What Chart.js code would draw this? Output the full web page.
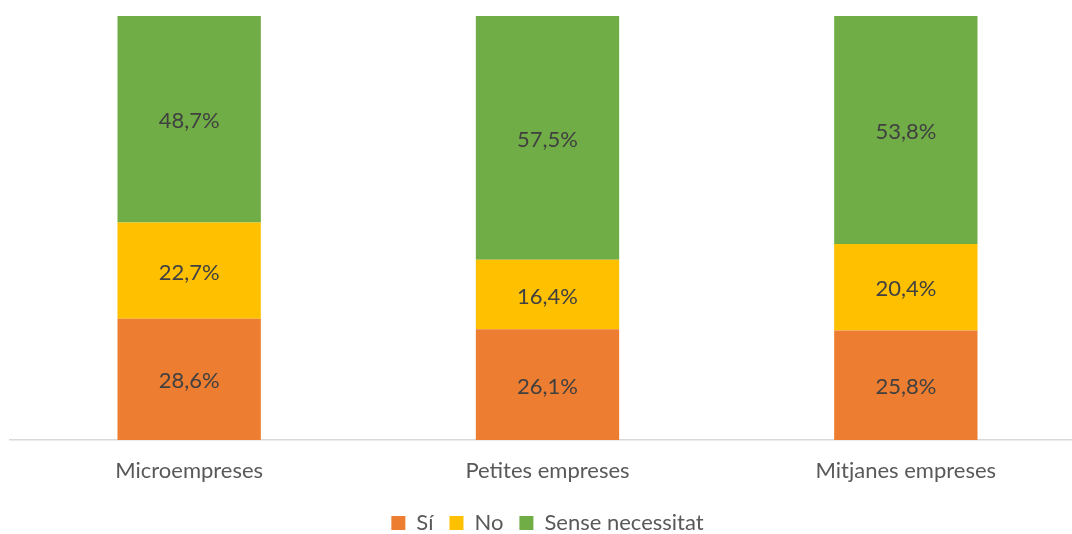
<!DOCTYPE html>
<html>
<head>
<meta charset="utf-8">
<script src="https://cdn.jsdelivr.net/npm/chart.js@4"></script>
<style>
  html, body { margin: 0; padding: 0; background: #ffffff; overflow: hidden; }
  #wrap { position: relative; width: 1100px; height: 554px; }
</style>
</head>
<body>
<div id="wrap"><canvas id="c"></canvas></div>
<script>
const categories = ["Microempreses", "Petites empreses", "Mitjanes empreses"];
const seriesNames = ["Sí", "No", "Sense necessitat"];
const valuesSi = [28.6, 26.1, 25.8];
const valuesNo = [22.7, 16.4, 20.4];
const valuesSense = [48.7, 57.5, 53.8];
const seriesColors = ["#ED7D31", "#FFC000", "#70AD47"];

const FONT = "Lato, 'Liberation Sans', sans-serif";
const FS = 22;

const labelPlugin = {
  id: "barLabels",
  afterDatasetsDraw(chart) {
    const ctx = chart.ctx;
    ctx.save();
    ctx.font = FS + "px " + FONT;
    ctx.fillStyle = "#404040";
    ctx.textAlign = "center";
    ctx.textBaseline = "middle";
    chart.data.datasets.forEach((ds, i) => {
      const meta = chart.getDatasetMeta(i);
      meta.data.forEach((el, j) => {
        const v = ds.data[j];
        const txt = v.toFixed(1).replace(".", ",") + "%";
        ctx.fillText(txt, el.x, (el.y + el.base) / 2 + 2);
      });
    });
    ctx.restore();
  }
};

new Chart(document.getElementById("c"), {
  type: "bar",
  data: {
    labels: categories,
    datasets: [
      { label: seriesNames[0], data: valuesSi, backgroundColor: seriesColors[0] },
      { label: seriesNames[1], data: valuesNo, backgroundColor: seriesColors[1] },
      { label: seriesNames[2], data: valuesSense, backgroundColor: seriesColors[2] }
    ]
  },
  options: {
    responsive: true,
    maintainAspectRatio: false,
    animation: false,
    layout: { padding: { left: 10, right: 15, top: 16, bottom: 10 } },
    datasets: { bar: { barPercentage: 0.4, categoryPercentage: 1.0 } },
    scales: {
      x: {
        stacked: true,
        grid: { display: false, drawTicks: false },
        border: { display: true, color: "#D9D9D9", width: 1.5 },
        ticks: { color: "#595959", font: { family: FONT, size: FS }, padding: 18 },
        afterFit(scale) { scale.height = 56; }
      },
      y: {
        stacked: true,
        display: false,
        min: 0,
        max: 100
      }
    },
    plugins: {
      legend: {
        position: "bottom",
        labels: {
          color: "#595959",
          font: { family: FONT, size: FS },
          boxWidth: 14,
          boxHeight: 14,
          padding: 16
        }
      },
      tooltip: { enabled: false }
    }
  },
  plugins: [labelPlugin]
});
</script>
</body>
</html>
